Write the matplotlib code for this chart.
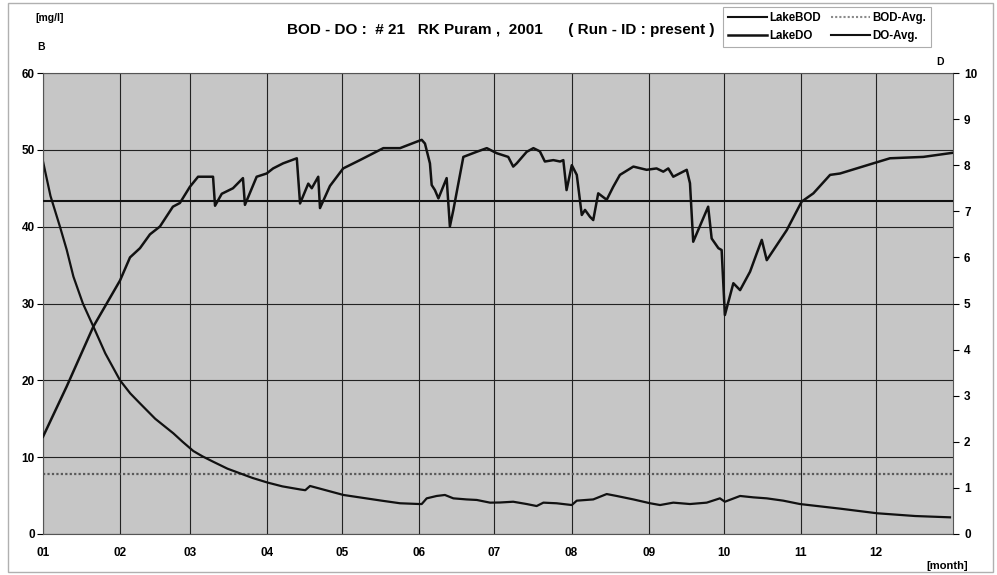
import matplotlib
matplotlib.use("Agg")
import matplotlib.pyplot as plt
from matplotlib.lines import Line2D
from matplotlib.patches import Rectangle

plt.rcParams['font.family'] = ['Liberation Sans', 'DejaVu Sans']

# ---- data ----
month_starts = [0, 31, 59, 90, 120, 151, 181, 212, 243, 273, 304, 334]
month_labels = ["01", "02", "03", "04", "05", "06", "07", "08", "09", "10", "11", "12"]

bod_days = [0, 3, 6.8, 9.5, 12.2, 16, 20.2, 25, 30.9, 35, 38.9, 45, 52.3, 56, 60.3, 64,
            68.3, 74, 79.0, 84, 90.0, 96, 103.1, 105.2,
            107.1, 120.5, 135.8, 143.2, 151.1, 151.9, 153.9, 157.9, 161.2, 164.6, 169.9,
            174.0, 179.3, 183.3, 188.6, 194.0, 198.0, 200.7, 206.0, 212.1, 214.1, 220.7,
            226.1, 230.1, 236.8, 243.5, 247.5, 252.8, 259.5, 266.2, 271.5, 273.5, 279.6,
            284.9, 290.3, 296.9, 303.6, 319.7, 334.5, 349.8, 363.8]
bod_vals = [48.5, 44.0, 40.0, 37.0, 33.5, 30.0, 27.0, 23.5, 20.0, 18.3, 17.0, 15.0, 13.1,
            12.0, 10.8, 10.1, 9.4, 8.5, 7.9, 7.3, 6.7, 6.2, 5.8, 5.7,
            6.25, 5.08, 4.34, 4.0, 3.9, 3.9, 4.64, 4.95, 5.08, 4.64, 4.5,
            4.43, 4.08, 4.1, 4.2, 3.9, 3.64, 4.08, 4.0, 3.77, 4.34, 4.5,
            5.2, 4.95, 4.5, 4.0, 3.77, 4.08, 3.9, 4.08, 4.64, 4.2, 4.95,
            4.77, 4.64, 4.34, 3.9, 3.3, 2.7, 2.34, 2.17]

do_days = [0, 9.5, 20.2, 30.9, 34.9, 38.9, 42.9, 46.9, 52.1, 54.9, 58.9, 62.2, 68.2, 69.0,
           71.7, 76.2, 80.2, 81.0, 85.7, 89.7, 92.3, 96.3, 101.8, 103.1, 106.4, 107.8,
           110.4, 111.1, 115.1, 120.4, 127.1, 136.5, 143.2, 149.9, 151.9, 153.2, 155.2,
           155.9, 157.2, 158.6, 161.9, 163.2, 164.6, 168.6, 173.9, 178.0, 182.0, 186.6,
           188.6, 190.0, 194.0, 196.7, 199.3, 201.3, 204.7, 207.4, 208.7, 210.0, 212.1,
           214.1, 216.1, 217.4, 219.4, 220.7, 222.7, 226.1, 228.7, 231.4, 236.8, 242.1,
           246.1, 248.8, 250.8, 252.8, 258.2, 259.5, 260.8, 266.8, 268.2, 270.9, 272.2,
           273.5, 276.9, 279.6, 283.6, 286.3, 288.3, 290.3, 298.3, 304.3, 309.0, 315.7,
           319.7, 333.0, 339.7, 353.1, 365]
do_vals = [2.11, 3.2, 4.5, 5.5, 6.0, 6.2, 6.5, 6.67, 7.1, 7.18, 7.53, 7.75, 7.75, 7.12,
           7.38, 7.5, 7.72, 7.14, 7.75, 7.82, 7.93, 8.04, 8.15, 7.17, 7.6, 7.5,
           7.75, 7.07, 7.55, 7.93, 8.11, 8.37, 8.37, 8.51, 8.55, 8.47, 8.04,
           7.57, 7.46, 7.28, 7.72, 6.67, 7.03, 8.18, 8.29, 8.37, 8.26, 8.18,
           7.97, 8.04, 8.29, 8.37, 8.3, 8.08, 8.11, 8.08, 8.11, 7.46, 8.0,
           7.79, 6.92, 7.03, 6.88, 6.81, 7.39, 7.25, 7.53, 7.79, 7.97, 7.9,
           7.93, 7.86, 7.93, 7.75, 7.9, 7.61, 6.34, 7.1, 6.41, 6.2, 6.16,
           4.75, 5.44, 5.29, 5.69, 6.09, 6.38, 5.94, 6.59, 7.21, 7.39, 7.79,
           7.82, 8.04, 8.15, 8.18, 8.27]

bod_avg = 7.8
do_avg = 7.22

# ---- figure ----
fig = plt.figure(figsize=(9.97, 5.75), dpi=100)
fig.patch.set_facecolor('white')
fig.patches.append(Rectangle((8 / 997, 3 / 575), 985 / 997, 569 / 575,
                             transform=fig.transFigure, fill=False,
                             edgecolor='#b0b0b0', linewidth=1.0))

ax = fig.add_axes([43 / 997, 41 / 575, 910 / 997, 461 / 575])
ax.set_facecolor('#c6c6c6')
ax.set_xlim(0, 365)
ax.set_ylim(0, 60)
ax.set_yticks(range(0, 61, 10))
ax.set_xticks(month_starts)
ax.set_xticklabels(month_labels)
ax.grid(True, color='#222222', linewidth=0.8)
ax.set_axisbelow(True)
for s in ax.spines.values():
    s.set_color('#555555')
    s.set_linewidth(0.8)
ax.tick_params(axis='x', length=0, pad=9, labelsize=8.5)
ax.tick_params(axis='y', length=4, pad=2, labelsize=8.5)
for lbl in ax.get_xticklabels() + ax.get_yticklabels():
    lbl.set_fontweight('bold')

ax2 = ax.twinx()
ax2.set_ylim(0, 10)
ax2.set_yticks(range(0, 11))
ax2.tick_params(axis='y', length=4, pad=4, labelsize=8.5)
for lbl in ax2.get_yticklabels():
    lbl.set_fontweight('bold')
for s in ax2.spines.values():
    s.set_visible(False)

ax.axhline(bod_avg, color='#5a5a5a', linewidth=1.6, linestyle=(0, (1, 1)))
ax.plot(bod_days, bod_vals, color='#111111', linewidth=1.6)
ax2.axhline(do_avg, color='#111111', linewidth=1.5)
ax2.plot(do_days, do_vals, color='#111111', linewidth=1.8)

# ---- texts ----
fig.text(35 / 997, 1 - 18 / 575, "[mg/l]", fontsize=7.5, fontweight='bold', va='center')
fig.text(37 / 997, 1 - 47 / 575, "B", fontsize=7.5, fontweight='bold', va='center')
fig.text(936 / 997, 1 - 62 / 575, "D", fontsize=7.5, fontweight='bold', va='center')
fig.text(287 / 997, 1 - 30 / 575,
         "BOD - DO :  # 21   RK Puram ,  2001      ( Run - ID : present )",
         fontsize=11, fontweight='bold', va='center')
fig.text(968 / 997, 1 - 566 / 575, "[month]", fontsize=8, fontweight='bold',
         va='center', ha='right')

handles = [Line2D([], [], color='#111111', lw=1.5),
           Line2D([], [], color='#111111', lw=1.8),
           Line2D([], [], color='#8a8a8a', lw=1.5, linestyle=(0, (1, 1))),
           Line2D([], [], color='#111111', lw=1.5)]
labels = ["LakeBOD", "LakeDO", "BOD-Avg.", "DO-Avg."]
leg = fig.legend(handles, labels, ncol=2, loc='upper left',
                 bbox_to_anchor=(717 / 997, 1 - 1 / 575),
                 prop={'weight': 'bold', 'size': 8.3},
                 frameon=True, fancybox=False, edgecolor='#999999',
                 handlelength=3.4, handletextpad=0.15, columnspacing=0.9,
                 labelspacing=0.55, borderpad=0.45)
leg.get_frame().set_linewidth(0.8)

fig.savefig("out.png", dpi=100, facecolor='white')
